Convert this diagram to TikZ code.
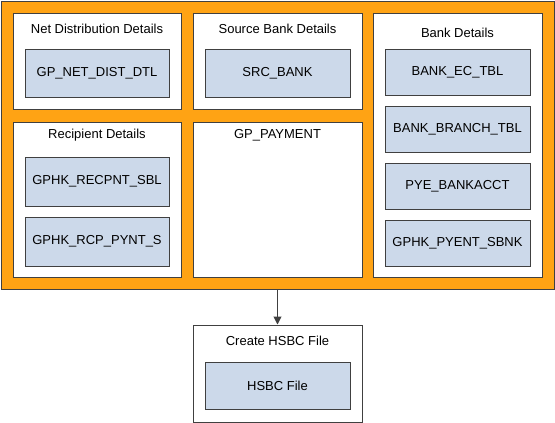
\documentclass[tikz,border=0pt]{standalone}
\usepackage{fontspec}
\setmainfont{Liberation Sans}
\usetikzlibrary{arrows.meta}
\definecolor{orangefill}{RGB}{255,163,20}
\definecolor{bluefill}{RGB}{204,217,234}
\definecolor{edge}{RGB}{64,64,64}
\tikzset{
  frame/.style={draw=edge, line width=1pt, fill=orangefill},
  whitebox/.style={draw=edge, line width=1pt, fill=white, inner sep=0pt},
  bluebox/.style={draw=edge, line width=1pt, fill=bluefill, inner sep=0pt, minimum width=145pt, font=\fontsize{13}{15}\selectfont},
  title/.style={inner sep=0pt, font=\fontsize{13}{15}\selectfont, text=black},
  conn/.style={draw=edge, line width=1pt, -{Triangle[length=8pt,width=8pt]}}
}
\begin{document}
\begin{tikzpicture}[x=1pt,y=-1pt]
\useasboundingbox (0,0) rectangle (555,423);
\node[frame, minimum width=553pt, minimum height=288pt, inner sep=0pt] (outer) at (277.5,145) {};
% white containers
\node[whitebox, minimum width=168pt, minimum height=96pt] (netbox) at (97,61) {};
\node[whitebox, minimum width=169pt, minimum height=96pt] (srcbox) at (277.5,61) {};
\node[whitebox, minimum width=169pt, minimum height=264pt] (bankbox) at (457.5,145) {};
\node[whitebox, minimum width=168pt, minimum height=155pt] (recbox) at (97,199.5) {};
\node[whitebox, minimum width=169pt, minimum height=155pt] (paybox) at (277.5,199.5) {};
\node[whitebox, minimum width=169pt, minimum height=97pt] (hsbcbox) at (277.5,373.5) {};
% titles
\node[title] (nettitle) at (97,29) {Net Distribution Details};
\node[title] (srctitle) at (277.5,29) {Source Bank Details};
\node[title] (banktitle) at (457.5,33) {Bank Details};
\node[title] (rectitle) at (97,135) {Recipient Details};
\node[title] (paytitle) at (277.5,135) {GP\_PAYMENT};
\node[title] (hsbctitle) at (277.5,341) {Create HSBC File};
% blue tables
\node[bluebox, minimum width=144pt, minimum height=48pt] (netdist) at (97,73) {GP\_NET\_DIST\_DTL};
\node[bluebox, minimum height=48pt] (srcbank) at (277.5,73) {SRC\_BANK};
\node[bluebox, minimum height=46pt] (bankec) at (457.5,72) {BANK\_EC\_TBL};
\node[bluebox, minimum height=46pt] (bankbr) at (457.5,129) {BANK\_BRANCH\_TBL};
\node[bluebox, minimum height=46pt] (pyebank) at (457.5,186) {PYE\_BANKACCT};
\node[bluebox, minimum height=46pt] (pyent) at (457.5,243) {GPHK\_PYENT\_SBNK};
\node[bluebox, minimum width=144pt, minimum height=49pt] (recpnt) at (97,181.5) {GPHK\_RECPNT\_SBL};
\node[bluebox, minimum width=144pt, minimum height=49pt] (rcppynt) at (97,241.5) {GPHK\_RCP\_PYNT\_S};
\node[bluebox, minimum height=47pt] (hsbcfile) at (277.5,385.5) {HSBC File};
% connector
\draw[conn] (outer.south -| hsbcbox.north) -- (hsbcbox.north);
\end{tikzpicture}
\end{document}
